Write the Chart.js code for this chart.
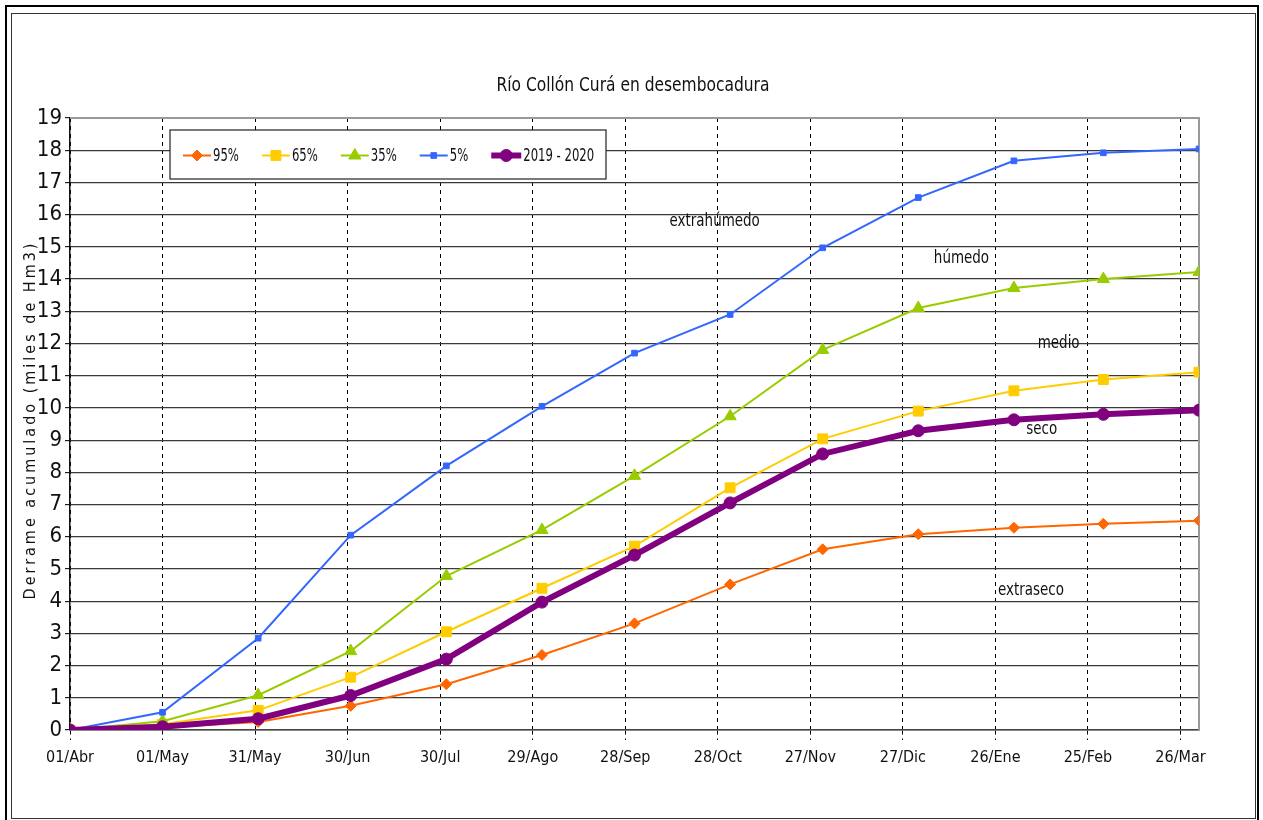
<!DOCTYPE html>
<html>
<head>
<meta charset="utf-8">
<script src="https://cdn.jsdelivr.net/npm/chart.js@4/dist/chart.umd.min.js"></script>
<style>
  html, body { margin: 0; padding: 0; background: #fff; width: 1263px; height: 820px; overflow: hidden; }
  #wrap { position: relative; width: 1263px; height: 820px; }
  #outer { position: absolute; left: 5px; top: 5px; width: 1254px; height: 830px; border: 2px solid #000; box-sizing: border-box; }
  #inner { position: absolute; left: 11px; top: 13px; width: 1245px; height: 806px; border: 1.5px solid #333; box-sizing: border-box; }
  canvas { position: absolute; left: 0; top: 0; }
</style>
</head>
<body>
<div id="wrap">
  <div id="outer"></div>
  <div id="inner"></div>
  <canvas id="c" width="1263" height="820"></canvas>
</div>
<script>
// ---- data ----
const tickLabels = ["01/Abr","01/May","31/May","30/Jun","30/Jul","29/Ago","28/Sep","28/Oct","27/Nov","27/Dic","26/Ene","25/Feb","26/Mar"];
const tickDays = [0,30,60,90,120,150,180,210,240,270,300,330,360];
const pointDays = [0,30,61,91,122,153,183,214,244,275,306,335,366];
const s95  = [0,0.08,0.25,0.75,1.42,2.33,3.31,4.52,5.61,6.08,6.28,6.4,6.5];
const s65  = [0,0.18,0.61,1.64,3.05,4.4,5.71,7.52,9.04,9.9,10.53,10.88,11.11];
const s35  = [0,0.27,1.08,2.45,4.78,6.21,7.89,9.74,11.8,13.1,13.72,14.0,14.22];
const s5   = [0,0.55,2.85,6.05,8.2,10.05,11.7,12.9,14.97,16.53,17.67,17.92,18.04];
const s1920= [0,0.1,0.35,1.07,2.2,3.97,5.43,7.05,8.57,9.29,9.63,9.8,9.93];
const seriesNames = ["95%","65%","35%","5%","2019 - 2020"];
const annotLabels = ["extrahúmedo","húmedo","medio","seco","extraseco"];
const annotDay = [209,289,320.5,315,311.5];
const annotVal = [15.78,14.63,11.99,9.32,4.32];
const titleText = "Río Collón Curá en desembocadura";
const yTitleText = "Derrame acumulado (miles de Hm3)";

const FONT = '"Liberation Sans Narrow", "DejaVu Sans Condensed", "Arial Narrow", sans-serif';
const colors = ["#FF6600","#FFCC00","#99CC00","#3366FF","#800080"];
const styles = ["rectRot","rect","triangle","rect","circle"];
const radii = [5.5,7,7,4,6];
const widths = [2,2,2,2,6];
const allData = [s95,s65,s35,s5,s1920];

const datasets = allData.map((arr,i)=>({
  label: seriesNames[i],
  data: arr.map((v,j)=>({x: pointDays[j], y: v})),
  borderColor: colors[i],
  backgroundColor: colors[i],
  borderWidth: widths[i],
  pointStyle: styles[i],
  pointRadius: radii[i],
  pointHoverRadius: radii[i],
  pointBorderWidth: 1,
  pointBorderColor: colors[i],
  pointBackgroundColor: colors[i],
  tension: 0,
  order: i === 4 ? 0 : 5 - i
}));

function textScaled(ctx, t, x, y, sx, align) {
  ctx.save();
  ctx.translate(x, y);
  ctx.scale(sx, 1);
  ctx.textAlign = align;
  ctx.fillText(t, 0, 0);
  ctx.restore();
  return ctx.measureText(t).width * sx;
}

const decor = {
  id: 'decor',
  beforeDatasetsDraw(chart) {
    const {ctx, chartArea: a} = chart;
    ctx.save();
    ctx.strokeStyle = '#999';
    ctx.lineWidth = 2;
    ctx.beginPath();
    ctx.moveTo(a.left, a.top); ctx.lineTo(a.right, a.top); ctx.lineTo(a.right, a.bottom);
    ctx.stroke();
    ctx.restore();
  },
  afterDraw(chart) {
    const {ctx, chartArea: a, scales} = chart;
    ctx.save();
    ctx.fillStyle = '#111';
    ctx.textBaseline = 'middle';
    // title
    ctx.font = '20px ' + FONT;
    textScaled(ctx, titleText, 633, 86, 0.86, 'center');
    // y title
    ctx.save();
    ctx.translate(31, 420);
    ctx.rotate(-Math.PI/2);
    ctx.font = '16px ' + FONT;
    ctx.textAlign = 'center';
    try { ctx.letterSpacing = '3px'; } catch(e) {}
    ctx.fillText(yTitleText, 0, 0);
    ctx.restore();
    // annotations
    ctx.font = '17px ' + FONT;
    annotLabels.forEach((t,i)=>{
      textScaled(ctx, t, scales.x.getPixelForValue(annotDay[i]), scales.y.getPixelForValue(annotVal[i]), 0.88, 'center');
    });
    // legend
    const lx = a.left + 100, ly = a.top + 12, lw = 436, lh = 49;
    ctx.fillStyle = '#fff';
    ctx.fillRect(lx, ly, lw, lh);
    ctx.strokeStyle = '#222';
    ctx.lineWidth = 1.2;
    ctx.strokeRect(lx, ly, lw, lh);
    ctx.font = '18px ' + FONT;
    let x = lx + 13;
    const cy = ly + lh/2 + 1;
    seriesNames.forEach((n,i)=>{
      const len = i === 4 ? 30 : 28;
      ctx.strokeStyle = colors[i];
      ctx.lineWidth = widths[i];
      ctx.beginPath(); ctx.moveTo(x, cy); ctx.lineTo(x+len, cy); ctx.stroke();
      ctx.fillStyle = colors[i];
      ctx.strokeStyle = colors[i];
      ctx.lineWidth = 1;
      Chart.helpers.drawPoint(ctx, {pointStyle: styles[i], radius: radii[i], borderWidth: 1, rotation: 0}, x + len/2, cy);
      ctx.fillStyle = '#111';
      const w = textScaled(ctx, n, x + len + 2, cy + 1, 0.72, 'left');
      x += len + 2 + w + 23;
    });
    ctx.restore();
  }
};

new Chart(document.getElementById('c'), {
  type: 'line',
  data: { datasets },
  plugins: [decor],
  options: {
    responsive: false,
    animation: false,
    layout: { padding: { left: 0, top: 118, right: 64, bottom: 0 } },
    plugins: { legend: { display: false }, title: { display: false }, tooltip: { enabled: false } },
    scales: {
      x: {
        type: 'linear',
        min: 0, max: 366,
        afterFit(s) { s.height = 90; },
        afterBuildTicks(s) { s.ticks = tickDays.map(v=>({value: v})); },
        ticks: {
          autoSkip: false, maxRotation: 0,
          callback: (v) => { const k = tickDays.indexOf(v); return k >= 0 ? tickLabels[k] : ''; },
          color: '#111', font: { family: FONT, size: 16 }, padding: 8
        },
        grid: { color: '#000', lineWidth: 1, tickLength: 10, tickColor: '#000', tickBorderDash: [4,4], tickWidth: 1 },
        border: { display: true, color: '#444', width: 1.5, dash: [4,4] }
      },
      y: {
        min: 0, max: 19,
        afterFit(s) { s.width = 70; },
        ticks: { stepSize: 1, color: '#111', font: { family: FONT, size: 22 }, padding: 3 },
        grid: { color: '#3a3a3a', lineWidth: 1.2, tickLength: 5, tickColor: '#222' },
        border: { display: true, color: '#111', width: 1.5 }
      }
    }
  }
});
</script>
</body>
</html>
